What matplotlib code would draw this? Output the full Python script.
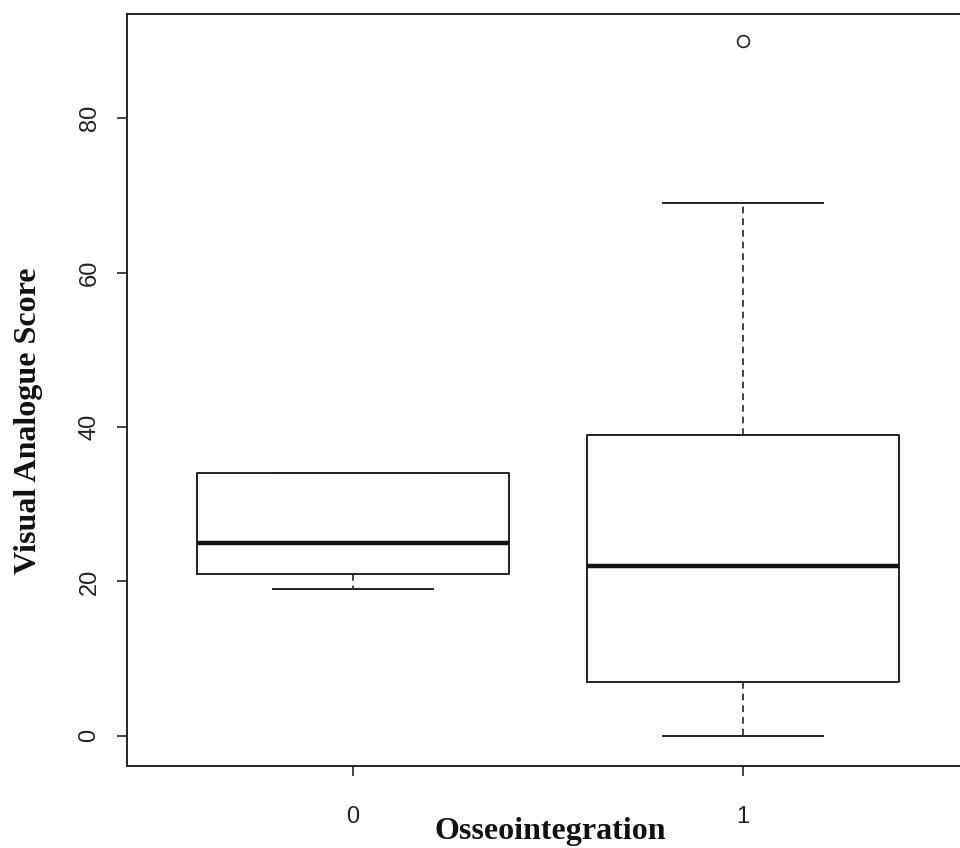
import matplotlib
matplotlib.use("Agg")
import matplotlib.pyplot as plt

categories = ["0", "1"]
q1 = [21, 7]
medians = [25, 22]
q3 = [34, 39]
whisker_low = [19, 0]
whisker_high = [34, 69]
outliers = [[], [90]]

fig = plt.figure(figsize=(9.6, 8.48), dpi=100)
W, H = 960, 848
left, right, top, bottom = 127, 969, 14, 766
ax = fig.add_axes([left / W, (H - bottom) / H, (right - left) / W, (bottom - top) / H])

stats = []
for i, c in enumerate(categories):
    stats.append(dict(label=c, q1=q1[i], med=medians[i], q3=q3[i],
                      whislo=whisker_low[i], whishi=whisker_high[i],
                      fliers=outliers[i]))

ax.bxp(stats, positions=[1, 2], widths=0.8, showfliers=True,
       boxprops=dict(color="#222222", linewidth=1.4),
       medianprops=dict(color="#111111", linewidth=3.2),
       whiskerprops=dict(color="#222222", linewidth=1.2, linestyle=(0, (4, 3))),
       capprops=dict(color="#222222", linewidth=1.4),
       capwidths=0.41,
       flierprops=dict(marker="o", markerfacecolor="none", markeredgecolor="#222222",
                       markersize=8.5, markeredgewidth=1.2))

ax.set_xlim(0.42, 2.58)
ax.set_ylim(-3.9, 93.5)
ax.set_xticks([1, 2])
ax.set_xticklabels(categories)
ax.set_yticks([0, 20, 40, 60, 80])
ax.set_yticklabels(["0", "20", "40", "60", "80"], rotation=90, va="center")

for s in ax.spines.values():
    s.set_color("#222222")
    s.set_linewidth(1.4)

ax.tick_params(direction="out", length=7, width=1.2, color="#222222",
               labelsize=17, labelcolor="#222222")
ax.tick_params(axis="x", pad=21.5)
ax.tick_params(axis="y", pad=12)
for lab in ax.get_xticklabels() + ax.get_yticklabels():
    lab.set_family("Liberation Sans")

fig.text(550 / W, (H - 839) / H, "Osseointegration", fontsize=23, fontweight="bold",
         family="Liberation Serif", color="#111111", ha="center", va="baseline")
fig.text(29 / W, (H - 421) / H, "Visual Analogue Score", fontsize=23, fontweight="bold",
         family="Liberation Serif", color="#111111", ha="center", va="center",
         rotation=90)

fig.savefig("out.png", dpi=100)
